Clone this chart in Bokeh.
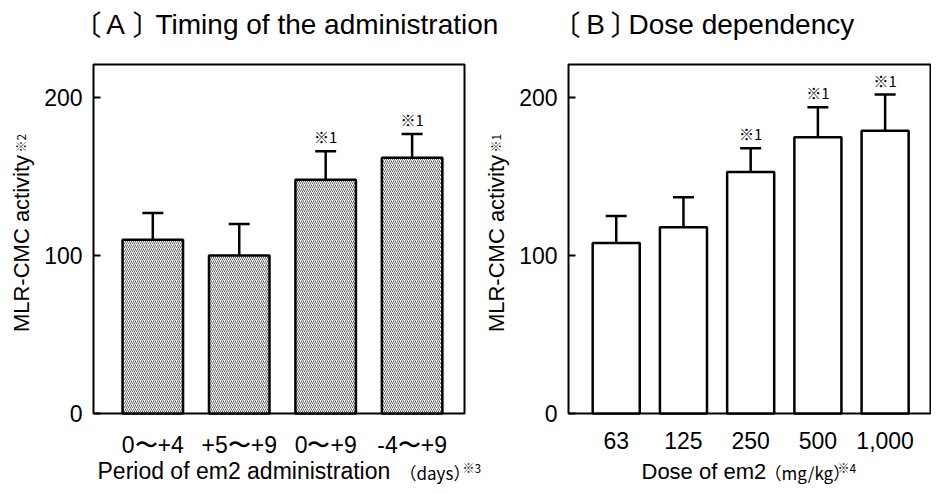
from bokeh.plotting import figure
from bokeh.models import Range1d, FixedTicker, Label, LinearAxis
from bokeh.embed import file_html
from bokeh.resources import INLINE
from bokeh.core.properties import value

# ---------------- data ----------------
timing_labels = ["0〜+4", "+5〜+9", "0〜+9", "-4〜+9"]
timing_mean = [110, 100, 148, 162]
timing_err_top = [127, 120, 166, 177]
timing_sig = ["", "", "※1", "※1"]

dose_labels = ["63", "125", "250", "500", "1,000"]
dose_mean = [108, 118, 153, 175, 179]
dose_err_top = [125, 137, 168, 194, 202]
dose_sig = ["", "", "※1", "※1", "※1"]

y_ticks = [0, 100, 200]
Y_MAX = 221

FONT = "Liberation Sans"
CJK = "Noto Sans CJK JP"
BL = 0.33  # baseline correction (fraction of font size)

# ---------------- geometry (canvas px) ----------------
W, H = 931, 486
FRAME_TOP, FRAME_BOTTOM = 64, 413
PPY = (FRAME_BOTTOM - FRAME_TOP) / Y_MAX

A_L, A_R, A_XR = 93, 464, (0.314, 4.606)
B_L, B_R, B_XR = 568, 930, (0.29, 5.675)


def full_range(l, r, xr):
    ppx = (r - l) / (xr[1] - xr[0])
    start = xr[0] - l / ppx
    return start, start + W / ppx, ppx


a0, a1, A_PPX = full_range(A_L, A_R, A_XR)
b0, b1, B_PPX = full_range(B_L, B_R, B_XR)


def cy(py):
    return (FRAME_BOTTOM - py) / PPY


p = figure(width=W, height=H, output_backend="svg", toolbar_location=None,
           x_range=Range1d(a0, a1), y_range=Range1d(cy(H), cy(0)),
           x_axis_location=None, y_axis_location=None,
           min_border=0, title=None)
p.extra_x_ranges = {"B": Range1d(b0, b1)}
p.outline_line_color = None
p.background_fill_color = "white"
p.border_fill_color = "white"
p.xgrid.visible = False
p.ygrid.visible = False


def panel(labels, mean, err_top, sig, xr, ppx, frame_l, rname, hatch,
          title_letter, br_l, letter_cx, br_r, title_txt, title_lx, sup_txt,
          xt_main, xt_main_x, xt_main_size, xt_unit, xt_unit_x, xt_note, xt_note_x):
    x0 = xr[0]

    def cx(px):
        return x0 + (px - frame_l) / ppx

    xs = list(range(1, len(labels) + 1))

    # panel box
    p.quad(left=xr[0], right=xr[1], bottom=0, top=Y_MAX, fill_color=None,
           line_color="black", line_width=2, x_range_name=rname)

    # bars
    kw = dict(fill_color="white", line_color="black", line_width=2.5)
    if hatch:
        kw.update(hatch_pattern="/", hatch_color="black", hatch_scale=4,
                  hatch_weight=0.6)
    p.vbar(x=xs, width=0.7, bottom=0, top=mean, x_range_name=rname, **kw)

    # upper error bars
    cw = 21 / ppx
    p.segment(x0=xs, y0=mean, x1=xs, y1=err_top, line_color="black",
              line_width=2.5, x_range_name=rname)
    p.segment(x0=[x - cw / 2 for x in xs], y0=err_top,
              x1=[x + cw / 2 for x in xs], y1=err_top,
              line_color="black", line_width=2.5, x_range_name=rname)

    # significance marks
    star_px = 15
    p.text(x=xs, y=[e + (9.5 + BL * star_px) / PPY for e in err_top], text=sig,
           text_align="center", text_baseline="alphabetic", text_font=value(CJK),
           text_font_size=f"{star_px}px", text_color="black", x_range_name=rname)

    # axes
    yax = LinearAxis(fixed_location=xr[0], bounds=(0, Y_MAX),
                     ticker=FixedTicker(ticks=y_ticks), x_range_name=rname)
    yax.axis_line_color = None
    yax.major_tick_in = 7
    yax.major_tick_out = 0
    yax.major_tick_line_width = 2
    yax.major_tick_line_color = "black"
    yax.minor_tick_line_color = None
    yax.major_label_text_font = FONT
    yax.major_label_text_font_size = "23px"
    yax.major_label_text_color = "black"
    yax.major_label_standoff = 11
    p.add_layout(yax, "left")

    xax = LinearAxis(fixed_location=0, bounds=xr, ticker=FixedTicker(ticks=xs),
                     x_range_name=rname)
    xax.major_label_overrides = {x: lab for x, lab in zip(xs, labels)}
    xax.axis_line_color = None
    xax.major_tick_line_color = None
    xax.minor_tick_line_color = None
    xax.major_label_text_font = FONT
    xax.major_label_text_font_size = "23px"
    xax.major_label_text_color = "black"
    xax.major_label_standoff = 12
    p.add_layout(xax, "below")

    def lab(x, y, text, size, align="left", rot=False, font=FONT):
        if rot:
            x = x - BL * size
        else:
            y = y - BL * size
        p.add_layout(Label(x=cx(x), y=cy(y), text=text, text_align=align,
                           text_baseline="alphabetic",
                           angle=1.5707963 if rot else 0.0,
                           text_font=font, text_font_size=f"{size}px",
                           text_color="black", x_range_name=rname))

    # panel title
    lab(br_l, 33, "〔", 28, align="right", font=CJK)
    lab(letter_cx, 33, title_letter, 28, align="center")
    lab(br_r, 33, "〕", 28, align="left", font=CJK)
    lab(title_lx, 33, title_txt, 28)

    # y-axis title with superscript note
    lab(frame_l - 65, 243, "MLR-CMC activity", 22, align="center", rot=True)
    lab(frame_l - 69, 152, sup_txt, 12, align="left", rot=True, font=CJK)

    # x-axis title
    lab(xt_main_x, 478, xt_main, xt_main_size)
    lab(xt_unit_x, 478, xt_unit, 17, font=CJK)
    lab(xt_note_x, 471, xt_note, 12, font=CJK)


panel(timing_labels, timing_mean, timing_err_top, timing_sig, A_XR, A_PPX, A_L,
      "default", True, "A", 101, 115, 132, "Timing of the administration", 155,
      "※2", "Period of em2 administration", 97, 23, "（days）", 399, "※3", 462)

panel(dose_labels, dose_mean, dose_err_top, dose_sig, B_XR, B_PPX, B_L,
      "B", False, "B", 580, 595, 610, "Dose dependency", 628,
      "※1", "Dose of em2", 641, 22, "（mg/kg）", 764, "※4", 837)

open("out.html", "w").write(file_html(p, INLINE))
